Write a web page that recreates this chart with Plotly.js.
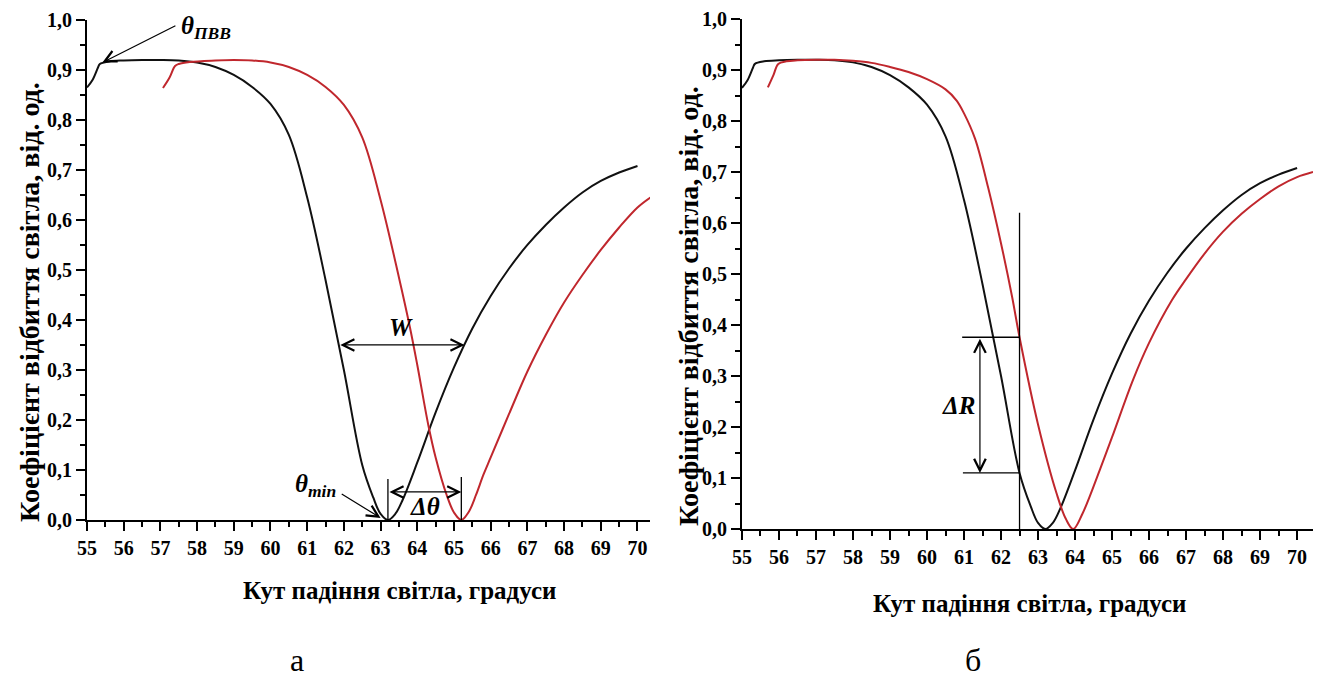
<!DOCTYPE html>
<html>
<head>
<meta charset="utf-8">
<script src="https://cdn.plot.ly/plotly-3.0.1.min.js"></script>
<style>
  html, body { margin: 0; padding: 0; background: #ffffff; }
  #chart { width: 1320px; height: 684px; }
</style>
</head>
<body>
<div id="chart"></div>
<script>
// Reflectance R(θ) of the base structure (same curve in both panels)
const angleBase = [55.0, 55.15, 55.3, 55.35, 55.6, 56.0, 56.5, 57.0, 57.5, 58.0, 58.5, 59.0, 59.5,
  60.0, 60.5, 61.0, 61.5, 62.0, 62.5, 62.8, 63.0, 63.2, 63.4, 63.6, 64.0, 64.5, 65.0, 65.5,
  66.0, 66.5, 67.0, 67.5, 68.0, 68.5, 69.0, 69.5, 70.0];
const reflBase = [0.865, 0.88, 0.905, 0.912, 0.917, 0.919, 0.92, 0.92, 0.919, 0.915, 0.906, 0.89, 0.866,
  0.832, 0.77, 0.645, 0.48, 0.30, 0.11, 0.045, 0.012, 0.0, 0.012, 0.04, 0.115, 0.215, 0.305, 0.383,
  0.448, 0.503, 0.55, 0.59, 0.625, 0.655, 0.678, 0.695, 0.708];

// Reflectance after the angular shift (panel а)
const angleShiftA = [57.07, 57.25, 57.4, 57.5, 57.8, 58.5, 59.0, 59.5, 60.0, 60.5, 61.0, 61.5, 62.0,
  62.5, 63.0, 63.5, 63.8, 64.0, 64.3, 64.5, 64.8, 65.0, 65.2, 65.4, 65.6, 65.8, 66.0, 66.5,
  67.0, 67.5, 68.0, 68.5, 69.0, 69.5, 70.0, 70.35];
const reflShiftA = [0.864, 0.885, 0.908, 0.912, 0.916, 0.919, 0.92, 0.919, 0.915, 0.906, 0.89, 0.866, 0.83,
  0.765, 0.64, 0.485, 0.385, 0.31, 0.19, 0.125, 0.05, 0.015, 0.0, 0.016, 0.05, 0.09, 0.125, 0.212,
  0.297, 0.37, 0.435, 0.49, 0.54, 0.585, 0.625, 0.645];

// Reflectance after the smaller shift (panel б)
const angleShiftB = [55.7, 55.85, 55.98, 56.2, 56.5, 57.0, 57.5, 58.0, 58.5, 59.0, 59.5, 60.0, 60.5,
  60.8, 61.0, 61.3, 61.65, 62.0, 62.3, 62.5, 63.0, 63.5, 63.75, 63.95, 64.2, 64.68, 65.0, 65.57,
  66.0, 66.62, 67.0, 67.5, 68.0, 68.5, 69.0, 69.5, 70.0, 70.43];
const reflShiftB = [0.866, 0.89, 0.912, 0.917, 0.919, 0.92, 0.92, 0.918, 0.914, 0.906, 0.896, 0.882, 0.862,
  0.84, 0.815, 0.765, 0.67, 0.56, 0.455, 0.376, 0.205, 0.07, 0.02, 0.0, 0.03, 0.118, 0.18, 0.293,
  0.365, 0.449, 0.49, 0.54, 0.583, 0.618, 0.647, 0.672, 0.69, 0.70];

// Axis ticks
const xTickVals = [55, 56, 57, 58, 59, 60, 61, 62, 63, 64, 65, 66, 67, 68, 69, 70];
const xTickText = ['55', '56', '57', '58', '59', '60', '61', '62', '63', '64', '65', '66', '67', '68', '69', '70'];
const yTickVals = [0, 0.1, 0.2, 0.3, 0.4, 0.5, 0.6, 0.7, 0.8, 0.9, 1.0];
const yTickText = ['0,0', '0,1', '0,2', '0,3', '0,4', '0,5', '0,6', '0,7', '0,8', '0,9', '1,0'];

// Axis titles
const xTitle = 'Кут падіння світла, градуси';
const yTitle = 'Коефіцієнт відбиття світла, від. од.';

// Annotation parameters
const widthLevel = 0.35;   // level at which the width W is marked
const probeAngle = 62.5;   // fixed angle for ΔR

// Helpers working on the sampled curves
function interp(xs, ys, x) {
  for (let i = 0; i < xs.length - 1; i++) {
    if (x >= xs[i] && x <= xs[i + 1]) {
      const t = (x - xs[i]) / (xs[i + 1] - xs[i]);
      return ys[i] + t * (ys[i + 1] - ys[i]);
    }
  }
  return null;
}
function crossings(xs, ys, level) {
  const out = [];
  for (let i = 0; i < xs.length - 1; i++) {
    const a = ys[i] - level, b = ys[i + 1] - level;
    if (a === 0) out.push(xs[i]);
    else if (a * b < 0) out.push(xs[i] + (xs[i + 1] - xs[i]) * a / (a - b));
  }
  return out;
}
function argMin(xs, ys) {
  let k = 0;
  ys.forEach((v, i) => { if (v < ys[k]) k = i; });
  return xs[k];
}

const serif = 'Liberation Serif';
const black = '#111111';
const red = '#c0272d';

function curve(x, y, color, xa, ya) {
  return {
    x: x, y: y, xaxis: xa, yaxis: ya, type: 'scatter', mode: 'lines',
    line: { color: color, width: 2, shape: 'spline', smoothing: 1.0 },
    hoverinfo: 'x+y', showlegend: false
  };
}

const data = [
  curve(angleBase, reflBase, black, 'x', 'y'),
  curve(angleShiftA, reflShiftA, red, 'x', 'y'),
  curve(angleBase, reflBase, black, 'x2', 'y2'),
  curve(angleShiftB, reflShiftB, red, 'x2', 'y2')
];

function xAxis(domain, range, anchor) {
  return {
    domain: domain, range: range, anchor: anchor,
    showline: true, linecolor: '#000', linewidth: 2, mirror: false,
    ticks: 'outside', ticklen: 9, tickwidth: 2, tickcolor: '#000',
    tickmode: 'array', tickvals: xTickVals, ticktext: xTickText,
    tickfont: { family: serif, size: 20, weight: 'bold', color: '#000' },
    minor: { tickmode: 'linear', tick0: 55.5, dtick: 1, ticks: 'outside', ticklen: 5, tickwidth: 2, tickcolor: '#000' },
    showgrid: false, zeroline: false, fixedrange: true
  };
}
function yAxis(domain, anchor) {
  return {
    domain: domain, range: [0, 1.0], anchor: anchor,
    showline: true, linecolor: '#000', linewidth: 2,
    ticks: 'outside', ticklen: 9, tickwidth: 2, tickcolor: '#000',
    tickmode: 'array', tickvals: yTickVals, ticktext: yTickText,
    tickfont: { family: serif, size: 20, weight: 'bold', color: '#000' },
    minor: { tickmode: 'linear', tick0: 0.05, dtick: 0.1, ticks: 'outside', ticklen: 5, tickwidth: 2, tickcolor: '#000' },
    showgrid: false, zeroline: false, fixedrange: true
  };
}

// Marked quantities, derived from the sampled curves
const [wLeft, wRight] = crossings(angleBase, reflBase, widthLevel);
const minBase = argMin(angleBase, reflBase);
const minShiftA = argMin(angleShiftA, reflShiftA);
const rHigh = interp(angleShiftB, reflShiftB, probeAngle);
const rLow = interp(angleBase, reflBase, probeAngle);

const arrow = { showarrow: true, text: '', arrowcolor: '#000', arrowwidth: 1.2, arrowhead: 5, arrowsize: 1.9 };
const labelFont = { family: serif, size: 25, weight: 'bold', style: 'italic', color: '#000' };
const titleFont = { family: serif, size: 25, weight: 'bold', color: '#000' };
const yTitleFont = { family: serif, size: 28, weight: 'bold', color: '#000' };

function paperText(x, y, text, font, angle) {
  return { xref: 'paper', yref: 'paper', x: x, y: y, xanchor: 'center', yanchor: 'middle',
    showarrow: false, text: text, font: font, textangle: angle || 0 };
}

const annotations = [
  // axis titles
  paperText(0.3030, 0.1374, xTitle, titleFont),
  paperText(0.7803, 0.1184, xTitle, titleFont),
  paperText(0.0227, 0.5585, yTitle, yTitleFont, -90),
  paperText(0.5212, 0.5526, yTitle, yTitleFont, -90),
  // θ_ПВВ
  Object.assign({ xref: 'x', yref: 'y', axref: 'x', ayref: 'y', x: 55.42, y: 0.915, ax: 57.45, ay: 0.99 }, arrow),
  { xref: 'x', yref: 'y', x: 57.5, y: 0.985, xanchor: 'left', yanchor: 'middle', showarrow: false,
    text: 'θ<sub>ПВВ</sub>', font: labelFont },
  // W
  Object.assign({ xref: 'x', yref: 'y', axref: 'x', ayref: 'y', x: wRight, y: widthLevel, ax: wLeft, ay: widthLevel, arrowside: 'end+start' }, arrow),
  { xref: 'x', yref: 'y', x: 63.55, y: widthLevel + 0.004, yanchor: 'bottom', showarrow: false, text: 'W', font: labelFont },
  // θ_min
  Object.assign({ xref: 'x', yref: 'y', axref: 'x', ayref: 'y', x: minBase - 0.2, y: 0.004, ax: 61.9, ay: 0.054 }, arrow),
  { xref: 'x', yref: 'y', x: 61.85, y: 0.068, xanchor: 'right', yanchor: 'middle', showarrow: false,
    text: 'θ<sub>min</sub>', font: labelFont },
  // Δθ
  Object.assign({ xref: 'x', yref: 'y', axref: 'x', ayref: 'y', x: minShiftA, y: 0.056, ax: minBase, ay: 0.056, arrowside: 'end+start' }, arrow),
  { xref: 'x', yref: 'y', x: (minBase + minShiftA) / 2, y: 0.026, yanchor: 'middle', showarrow: false, text: 'Δθ', font: labelFont },
  // ΔR
  Object.assign({ xref: 'x2', yref: 'y2', axref: 'x2', ayref: 'y2', x: 61.43, y: rLow, ax: 61.43, ay: rHigh, arrowside: 'end+start' }, arrow),
  { xref: 'x2', yref: 'y2', x: 61.35, y: (rHigh + rLow) / 2, xanchor: 'right', yanchor: 'middle', showarrow: false, text: 'ΔR', font: labelFont },
  // panel letters
  paperText(0.225, 0.035, 'а', { family: serif, size: 32, color: '#000' }),
  paperText(0.737, 0.035, 'б', { family: serif, size: 32, color: '#000' })
];

const guide = { type: 'line', line: { color: '#000', width: 1.3 } };
const shapes = [
  Object.assign({ xref: 'x', yref: 'y', x0: minBase, x1: minBase, y0: 0, y1: 0.082 }, guide),
  Object.assign({ xref: 'x', yref: 'y', x0: minShiftA, x1: minShiftA, y0: 0, y1: 0.086 }, guide),
  Object.assign({ xref: 'x2', yref: 'y2', x0: probeAngle, x1: probeAngle, y0: 0, y1: 0.62 }, guide),
  Object.assign({ xref: 'x2', yref: 'y2', x0: 60.95, x1: probeAngle, y0: rHigh, y1: rHigh }, guide),
  Object.assign({ xref: 'x2', yref: 'y2', x0: 60.97, x1: probeAngle, y0: rLow, y1: rLow }, guide)
];

const layout = {
  width: 1320, height: 684,
  margin: { l: 0, r: 0, t: 0, b: 0 },
  paper_bgcolor: '#ffffff', plot_bgcolor: '#ffffff',
  font: { family: serif, color: '#000' },
  showlegend: false,
  xaxis: xAxis([0.0659, 0.4924], [55, 70.34], 'y'),
  yaxis: yAxis([0.2398, 0.9708], 'x'),
  xaxis2: xAxis([0.5621, 0.9947], [55, 70.43], 'y2'),
  yaxis2: yAxis([0.2266, 0.9722], 'x2'),
  annotations: annotations,
  shapes: shapes
};

Plotly.newPlot('chart', data, layout, { displayModeBar: false, staticPlot: true });
</script>
</body>
</html>
